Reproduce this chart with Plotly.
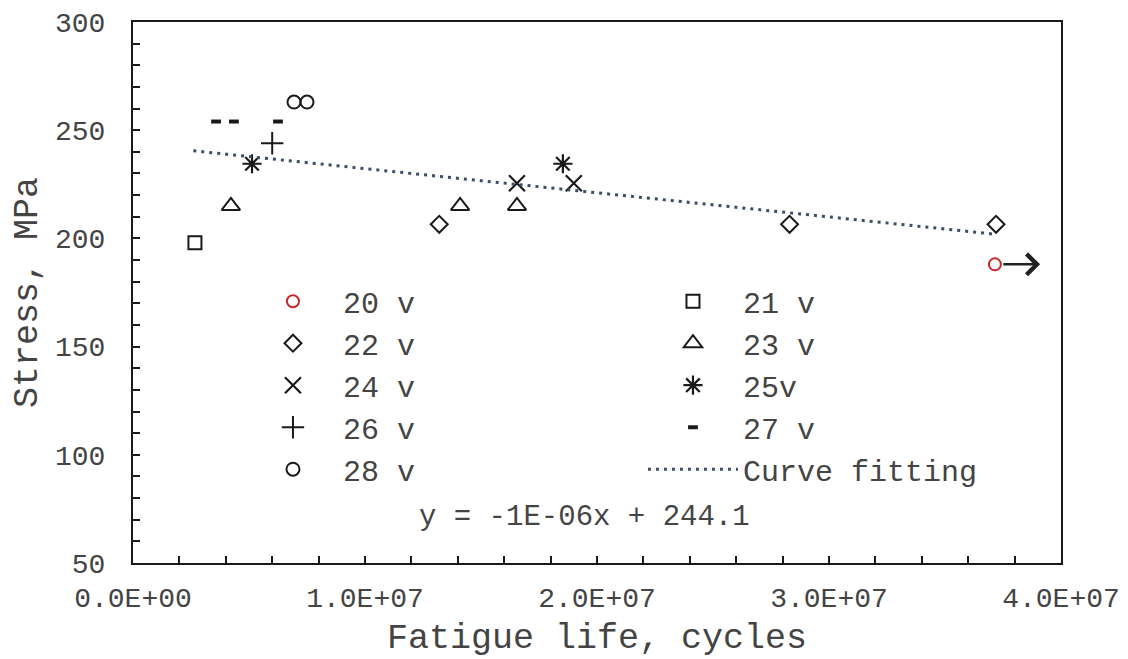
import plotly.graph_objects as go

# ---- data ----
series_names = ["20 v", "21 v", "22 v", "23 v", "24 v", "25v", "26 v", "27 v", "28 v"]
x_20 = [37.15e6]; y_20 = [188]
x_21 = [2.67e6]; y_21 = [198]
x_22 = [13.2e6, 28.3e6, 37.2e6]; y_22 = [206.5, 206.5, 206.5]
x_23 = [4.22e6, 14.1e6, 16.55e6]; y_23 = [215, 215, 215]
x_24 = [16.55e6, 19.0e6]; y_24 = [225.5, 225.5]
x_25 = [5.13e6, 18.53e6]; y_25 = [234.5, 234.5]
x_26 = [6.0e6]; y_26 = [244]
x_27 = [3.58e6, 4.35e6, 6.25e6]; y_27 = [254, 254, 254]
x_28 = [6.94e6, 7.5e6]; y_28 = [263, 263]
fit_x = [2.6e6, 37.1e6]; fit_y = [240.5, 202.0]
x_tickvals = [0, 1e7, 2e7, 3e7, 4e7]
x_ticktext = ["0.0E+00", "1.0E+07", "2.0E+07", "3.0E+07", "4.0E+07"]
equation = "y = -1E-06x + 244.1"

FONT = "Liberation Mono"
TXT = "#444444"
BLK = "#1a1a1a"

fig = go.Figure()

def add(xs, ys, name, symbol, size, color=BLK, lw=2):
    fig.add_trace(go.Scatter(x=xs, y=ys, mode="markers", name=name,
                             marker=dict(symbol=symbol, size=size, color=color,
                                         line=dict(width=lw, color=color))))

add(x_20, y_20, series_names[0], "circle-open", 12, color="#c8282e")
add(x_21, y_21, series_names[1], "square-open", 13)
add(x_22, y_22, series_names[2], "diamond-open", 13)
add(x_23, y_23, series_names[3], "triangle-up-open", 16)
add(x_24, y_24, series_names[4], "x-thin-open", 16, lw=2.2)
add(x_25, y_25, series_names[5], "asterisk-open", 16, lw=2.2)
add(x_26, y_26, series_names[6], "cross-thin-open", 16)
add(x_27, y_27, series_names[7], "line-ew-open", 7, lw=4)
add(x_28, y_28, series_names[8], "circle-open", 13)

fig.add_trace(go.Scatter(x=fit_x, y=fit_y, mode="lines", name="Curve fitting",
                         line=dict(color="#3b4d6b", width=3, dash="3px,5px")))

# arrow showing run-out
fig.add_annotation(x=39.1e6, y=y_20[0], ax=37.45e6, ay=y_20[0], xref="x", yref="y",
                   axref="x", ayref="y", showarrow=True, arrowhead=4, arrowsize=1.6,
                   arrowwidth=2.5, arrowcolor="#222222", text="")

fig.add_annotation(x=1.944e7, y=71, xref="x", yref="y", text=equation, showarrow=False,
                   font=dict(family=FONT, size=29, color=TXT))

# page body has an 8px margin, so the figure is offset by (8, 8) in the window
fig.update_layout(
    width=1128, height=659,
    margin=dict(l=125, r=75, t=14, b=104),
    paper_bgcolor="white", plot_bgcolor="white",
    showlegend=True,
    legend=dict(orientation="h", x=0.1185, xanchor="left", y=0.532, yanchor="top",
                entrywidth=295, entrywidthmode="pixels", itemwidth=90,
                font=dict(family=FONT, size=30, color=TXT),
                bgcolor="rgba(0,0,0,0)", traceorder="normal", itemsizing="trace"),
    font=dict(family=FONT, color=TXT),
)

fig.update_xaxes(range=[0, 4e7], tickvals=x_tickvals, ticktext=x_ticktext,
                 ticks="inside", ticklen=7, tickwidth=1.5, tickcolor=BLK,
                 minor=dict(dtick=2e6, ticks="inside", ticklen=7, tickwidth=1.5, tickcolor=BLK),
                 showline=True, linewidth=2, linecolor=BLK, mirror=True,
                 showgrid=False, zeroline=False, automargin=False,
                 tickfont=dict(family=FONT, size=28, color=TXT), ticklabelstandoff=8,
                 title=dict(text="Fatigue life, cycles", font=dict(family=FONT, size=35, color=TXT),
                            standoff=10))
fig.update_yaxes(range=[50, 300], dtick=50, tick0=50,
                 ticks="inside", ticklen=7, tickwidth=1.5, tickcolor=BLK,
                 minor=dict(dtick=10, ticks="inside", ticklen=7, tickwidth=1.5, tickcolor=BLK),
                 showline=True, linewidth=2, linecolor=BLK, mirror=True,
                 showgrid=False, zeroline=False, automargin=False,
                 tickfont=dict(family=FONT, size=28, color=TXT), ticklabelstandoff=20,
                 title=dict(text="Stress, MPa", font=dict(family=FONT, size=35, color=TXT),
                            standoff=8))

fig.write_html("out.html")
